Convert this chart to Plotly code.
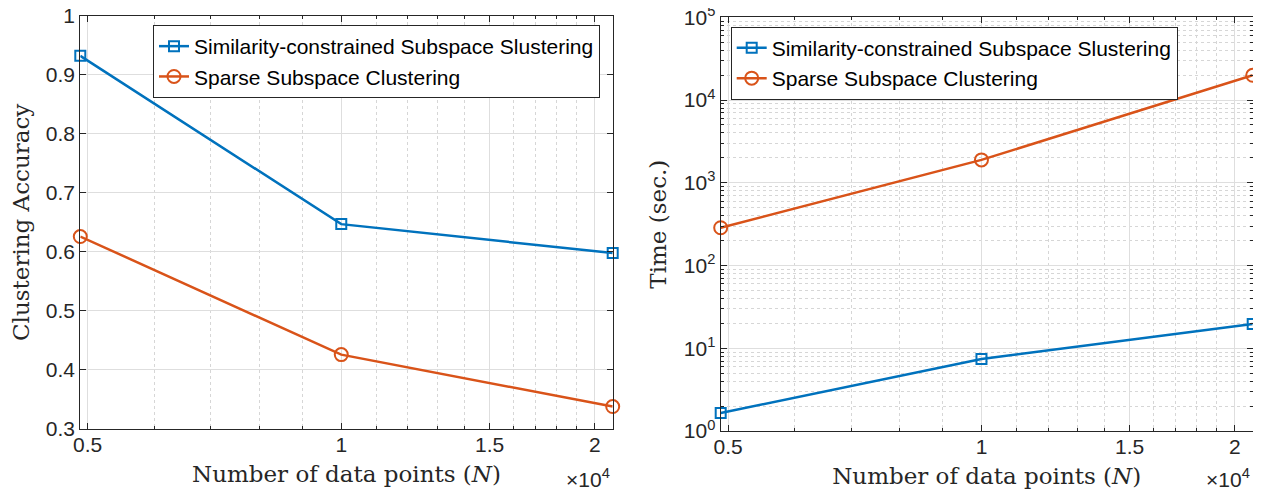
import math
import plotly.graph_objects as go

# ---- data ----
N = [4900, 10000, 21000]
series_names = ["Similarity-constrained Subspace Slustering", "Sparse Subspace Clustering"]
acc_sscs = [0.932, 0.647, 0.598]
acc_ssc = [0.626, 0.426, 0.338]
time_sscs = [1.65, 7.4, 19.7]
time_ssc = [286, 1890, 19900]

x_tickvals = [5000, 10000, 15000, 20000]
x_ticktext = ["0.5", "1", "1.5", "2"]
x_minor = [6000, 7000, 8000, 9000, 11000, 12000, 13000, 14000,
           16000, 17000, 18000, 19000]
acc_tickvals = [0.3, 0.4, 0.5, 0.6, 0.7, 0.8, 0.9, 1.0]
acc_ticktext = ["0.3", "0.4", "0.5", "0.6", "0.7", "0.8", "0.9", "1"]
time_tickvals = [1, 10, 100, 1000, 10000, 100000]
time_ticktext = ["10<sup>0</sup>", "10<sup>1</sup>", "10<sup>2</sup>",
                 "10<sup>3</sup>", "10<sup>4</sup>", "10<sup>5</sup>"]
time_minor = [m * 10 ** k for k in range(5) for m in range(2, 10)]

BLUE = "#0072BD"
ORANGE = "#D95319"
AXC = "#262626"
SANS = "Liberation Sans, Arial, sans-serif"
SERIF = "DejaVu Serif, serif"

OFF = 8  # page body margin
W, H = 1261 - OFF, 493 - OFF

def px(v):
    return (v - OFF) / W

def py(v):
    return 1 - (v - OFF) / H

fig = go.Figure()

def add(y, name, color, symbol, size, xa, ya, leg):
    fig.add_trace(go.Scatter(x=N, y=y, name=name, mode="lines+markers",
                             line=dict(color=color, width=2.5),
                             marker=dict(symbol=symbol, size=size, line=dict(width=2, color=color)),
                             xaxis=xa, yaxis=ya, legend=leg, cliponaxis=False))

add(acc_sscs, series_names[0], BLUE, "square-open", 10, "x", "y", "legend")
add(acc_ssc, series_names[1], ORANGE, "circle-open", 13, "x", "y", "legend")
add(time_sscs, series_names[0], BLUE, "square-open", 10, "x2", "y2", "legend2")
add(time_ssc, series_names[1], ORANGE, "circle-open", 13, "x2", "y2", "legend2")

xr = [math.log10(N[0]), math.log10(N[-1])]

common_ax = dict(showline=True, linecolor=AXC, linewidth=1.3, mirror="ticks",
                 ticks="inside", ticklen=6, tickcolor=AXC, tickwidth=1,
                 tickfont=dict(family=SANS, size=21, color=AXC),
                 showgrid=True, gridcolor="#dedede", gridwidth=1, zeroline=False,
                 automargin=False, ticklabeloverflow="allow")

MINOR_GRID = "#d6d6d6"

def xaxis(domain, anchor):
    d = dict(common_ax)
    d.update(type="log", domain=domain, anchor=anchor, range=xr,
             tickmode="array", tickvals=x_tickvals, ticktext=x_ticktext,
             ticklabelstandoff=-3,
             minor=dict(tickmode="array", tickvals=x_minor, ticks="inside", ticklen=3,
                        tickcolor=AXC, showgrid=True, gridcolor=MINOR_GRID, griddash="dot",
                        gridwidth=1),
             title=dict(text="Number of data points (<i>N</i>)",
                        font=dict(family=SERIF, size=23, color=AXC), standoff=10))
    return d

ya = dict(common_ax)
ya.update(domain=[py(429), py(15.7)], anchor="x", range=[0.3, 1.0],
          tickmode="array", tickvals=acc_tickvals, ticktext=acc_ticktext,
          title=dict(text="Clustering Accuracy", font=dict(family=SERIF, size=23, color=AXC),
                     standoff=10))

yb = dict(common_ax)
yb.update(type="log", domain=[py(431), py(17.3)], anchor="x2", range=[0, 5],
          tickmode="array", tickvals=time_tickvals, ticktext=time_ticktext,
          minor=dict(tickmode="array", tickvals=time_minor, ticks="inside", ticklen=3,
                     tickcolor=AXC, showgrid=True, gridcolor=MINOR_GRID, griddash="dot",
                     gridwidth=1),
          title=dict(text="Time (sec.)", font=dict(family=SERIF, size=23, color=AXC),
                     standoff=10))

legend_common = dict(bgcolor="white", bordercolor=AXC, borderwidth=1,
                     font=dict(family=SANS, size=21, color="black"),
                     xanchor="left", yanchor="top", tracegroupgap=0)

fig.update_layout(
    width=W, height=H,
    margin=dict(l=0, r=0, t=0, b=0, autoexpand=False),
    paper_bgcolor="white", plot_bgcolor="white",
    xaxis=xaxis([px(80.3), px(612.7)], "y"),
    yaxis=ya,
    xaxis2=xaxis([px(720.7), px(1252.7)], "y2"),
    yaxis2=yb,
    legend=dict(legend_common, x=px(153), y=py(25)),
    legend2=dict(legend_common, x=px(730.7), y=py(26.7)),
    annotations=[
        dict(text="×10<sup>4</sup>", xref="paper", yref="paper", x=px(612), y=py(478),
             xanchor="right", yanchor="middle", showarrow=False,
             font=dict(family=SANS, size=21, color=AXC)),
        dict(text="×10<sup>4</sup>", xref="paper", yref="paper", x=px(1252), y=py(478),
             xanchor="right", yanchor="middle", showarrow=False,
             font=dict(family=SANS, size=21, color=AXC)),
    ],
)

fig.write_html("out.html")
